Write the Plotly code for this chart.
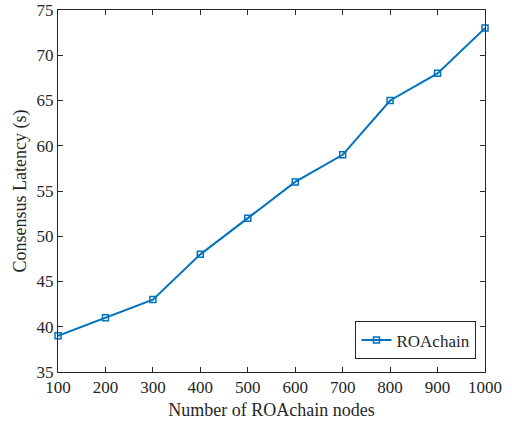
import plotly.graph_objects as go

nodes = [100, 200, 300, 400, 500, 600, 700, 800, 900, 1000]
latency = [39, 41, 43, 48, 52, 56, 59, 65, 68, 73]
x_ticks = [100, 200, 300, 400, 500, 600, 700, 800, 900, 1000]
y_ticks = [35, 40, 45, 50, 55, 60, 65, 70, 75]

FONT = "Liberation Serif"
INK = "#262626"

fig = go.Figure()
fig.add_trace(go.Scatter(
    x=nodes, y=latency, mode="lines+markers", name="ROAchain",
    line=dict(color="#0072BD", width=2),
    marker=dict(symbol="square-open", size=6, color="#0072BD", line=dict(width=1.5)),
    cliponaxis=False,
))

axis_common = dict(
    showgrid=False, zeroline=False, showline=True, linecolor=INK, linewidth=1,
    mirror="ticks", ticks="inside", ticklen=5, tickcolor=INK,
    tickfont=dict(family=FONT, size=17, color=INK),
    automargin=False,
)
fig.update_xaxes(range=[100, 1000], tickvals=x_ticks,
                 title=dict(text="Number of ROAchain nodes", font=dict(family=FONT, size=18, color=INK), standoff=6),
                 **axis_common)
fig.update_yaxes(range=[35, 75], tickvals=y_ticks,
                 title=dict(text="Consensus Latency (s)", font=dict(family=FONT, size=18, color=INK), standoff=5),
                 **axis_common)

fig.update_layout(
    width=512, height=423,
    margin=dict(l=58, r=27, t=10, b=51),
    plot_bgcolor="white", paper_bgcolor="white",
    showlegend=True,
    legend=dict(x=0.98, y=0.035, xanchor="right", yanchor="bottom",
                bordercolor=INK, borderwidth=1, bgcolor="white",
                font=dict(family=FONT, size=17, color=INK)),
)

fig.write_html("out.html", config={"displayModeBar": False},
               post_script="document.body.style.margin='0';")
